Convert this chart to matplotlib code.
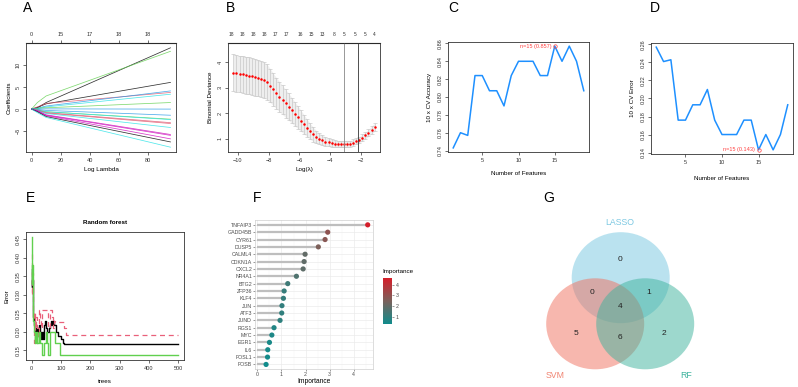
import numpy as np
import matplotlib
matplotlib.use("Agg")
import matplotlib.pyplot as plt
from matplotlib.patches import Ellipse
from matplotlib.colors import LinearSegmentedColormap
from matplotlib.cm import ScalarMappable
from matplotlib.colors import Normalize

plt.rcParams['font.family'] = ['Liberation Sans', 'DejaVu Sans']

# ---------------- data ----------------
# A: LASSO coefficient paths (values at lambda knots)
lasso_knots = [0, 4, 10, 95.3]
lasso_paths = [
    [0, 0.3, 1.5, 14.0], [0, 1.5, 3.0, 13.2], [0, 0.4, 1.2, 6.1], [0, 0.5, 1.3, 3.8],
    [0, 0.2, 0.7, 4.15], [0, 0.1, 0.5, 3.4], [0, 0.2, 0.3, 1.5], [0, 0.0, 0.05, 0.0],
    [0, -0.1, -0.3, -1.4], [0, -0.2, -0.6, -2.3], [0, -0.2, -0.6, -2.4], [0, -0.2, -0.8, -3.1],
    [0, -0.3, -0.9, -3.3], [0, -0.3, -1.0, -4.2], [0, -0.4, -1.3, -5.8], [0, -0.4, -1.4, -6.0],
    [0, -0.5, -1.5, -6.8], [0, -0.6, -1.7, -7.5], [0, -0.8, -1.9, -8.7],
]
lasso_colors = ['black', '#61D04F', 'black', '#DF536B', '#2297E6', '#28E2E5', '#61D04F', '#2297E6',
                '#2297E6', '#61D04F', '#28E2E5', '#DF536B', '#DF536B', '#28E2E5', '#CD0BBC', '#CD0BBC',
                '#CD0BBC', 'black', '#28E2E5']
lasso_top_pos = [0, 20, 40, 60, 80]
lasso_top_lab = ['0', '15', '17', '18', '18']

# B: CV binomial deviance
cv_loglam = [-10.3, -10.1, -9.9, -9.7, -9.5, -9.3, -9.1, -8.9, -8.7, -8.5, -8.3, -8.1, -7.9, -7.7,
             -7.5, -7.3, -7.1, -6.9, -6.7, -6.5, -6.3, -6.1, -5.9, -5.7, -5.5, -5.3, -5.1, -4.9,
             -4.7, -4.5, -4.3, -4.1, -3.9, -3.7, -3.5, -3.3, -3.1, -2.9, -2.7, -2.5, -2.3, -2.1,
             -1.9, -1.7, -1.5, -1.3, -1.1]
cv_mean = [3.59, 3.57, 3.54, 3.52, 3.49, 3.47, 3.44, 3.41, 3.38, 3.34, 3.30, 3.22, 3.08, 2.93,
           2.78, 2.65, 2.52, 2.38, 2.25, 2.11, 1.97, 1.84, 1.70, 1.56, 1.42, 1.29, 1.17, 1.07,
           1.00, 0.94, 0.89, 0.86, 0.83, 0.81, 0.80, 0.79, 0.78, 0.79, 0.81, 0.85, 0.90, 0.96,
           1.04, 1.13, 1.23, 1.34, 1.45]
cv_sd = [0.72, 0.72, 0.72, 0.72, 0.72, 0.72, 0.72, 0.72, 0.71, 0.70, 0.70, 0.69, 0.66, 0.63,
         0.61, 0.59, 0.57, 0.55, 0.53, 0.50, 0.47, 0.44, 0.41, 0.38, 0.34, 0.31, 0.28, 0.25,
         0.22, 0.20, 0.18, 0.16, 0.15, 0.14, 0.13, 0.13, 0.12, 0.12, 0.12, 0.12, 0.12, 0.12,
         0.13, 0.13, 0.14, 0.15, 0.16]
cv_top_pos = [-10.42, -9.71, -9.0, -8.29, -7.58, -6.87, -5.93, -5.22, -4.49, -3.73, -3.07, -2.38, -1.73, -1.13]
cv_top_lab = ['18', '18', '18', '18', '17', '17', '16', '15', '13', '8', '5', '5', '5', '4']
lambda_min = -3.07
lambda_1se = -2.2

# C / D: SVM-RFE
n_features = list(range(1, 20))
cv_accuracy = [0.743, 0.760, 0.757, 0.824, 0.824, 0.807, 0.807, 0.790, 0.824, 0.840,
               0.840, 0.840, 0.824, 0.824, 0.857, 0.840, 0.857, 0.840, 0.807]
cv_error = [0.257, 0.241, 0.243, 0.176, 0.176, 0.193, 0.193, 0.210, 0.176, 0.160,
            0.160, 0.160, 0.176, 0.176, 0.143, 0.160, 0.143, 0.160, 0.193]

# E: random forest error
black_trees = [1, 2, 3, 4, 5, 6, 8, 10, 12, 14, 17, 20, 23, 26, 29, 32, 35, 38, 41, 44, 47, 50, 54,
               58, 62, 66, 70, 74, 78, 82, 86, 90, 100, 106, 112, 500]
black_err = [0.37, 0.32, 0.34, 0.28, 0.26, 0.24, 0.22, 0.20, 0.21, 0.19, 0.21, 0.21, 0.19, 0.22, 0.20,
             0.18, 0.20, 0.18, 0.21, 0.22, 0.23, 0.21, 0.20, 0.21, 0.22, 0.23, 0.22, 0.23, 0.22, 0.20,
             0.20, 0.19, 0.18, 0.17, 0.167, 0.167]
red_trees = [1, 2, 3, 4, 5, 7, 9, 11, 13, 16, 19, 22, 25, 28, 31, 35, 40, 45, 50, 55, 60, 64, 68, 72,
             76, 80, 90, 100, 110, 118, 500]
red_err = [0.41, 0.30, 0.36, 0.26, 0.25, 0.22, 0.17, 0.25, 0.21, 0.24, 0.21, 0.19, 0.26, 0.23, 0.21,
           0.26, 0.26, 0.26, 0.26, 0.21, 0.21, 0.26, 0.24, 0.21, 0.23, 0.227, 0.227, 0.227, 0.21, 0.193, 0.193]
green_trees = [1, 2, 3, 4, 5, 6, 8, 10, 12, 14, 17, 20, 24, 28, 32, 36, 40, 44, 48, 52, 56, 60, 64, 68,
               72, 76, 80, 84, 90, 97, 500]
green_err = [0.457, 0.33, 0.38, 0.27, 0.26, 0.23, 0.20, 0.17, 0.20, 0.17, 0.20, 0.17, 0.20, 0.17, 0.17,
             0.137, 0.137, 0.17, 0.20, 0.17, 0.137, 0.137, 0.20, 0.20, 0.20, 0.20, 0.17, 0.17, 0.17,
             0.137, 0.137]

# F: importance
genes = ['TNFAIP3', 'GADD45B', 'CYR61', 'DUSP5', 'CALML4', 'CDKN1A', 'CXCL2', 'NR4A1', 'BTG2', 'ZFP36',
         'KLF4', 'JUN', 'ATF3', 'JUND', 'RGS1', 'MYC', 'EGR1', 'IL6', 'FOSL1', 'FOSB']
importance = [4.58, 2.92, 2.81, 2.53, 1.98, 1.94, 1.90, 1.62, 1.26, 1.11,
              1.08, 1.02, 1.01, 0.94, 0.69, 0.60, 0.50, 0.43, 0.42, 0.36]

# G: Venn counts
venn_sets = ['LASSO', 'SVM', 'RF']
venn_counts = {'L': 0, 'LS': 0, 'LR': 1, 'LSR': 4, 'S': 5, 'SR': 6, 'R': 2}

# ---------------- figure ----------------
W, H = 798, 387
fig = plt.figure(figsize=(W / 100, H / 100), dpi=100)


def add_ax(x0, y0, x1, y1):
    return fig.add_axes([x0 / W, 1 - y1 / H, (x1 - x0) / W, (y1 - y0) / H])


def rstyle(ax, fs=4):
    for s in ax.spines.values():
        s.set_linewidth(0.6)
        s.set_color('#333333')
    ax.tick_params(labelsize=fs, length=2.5, width=0.5, pad=1.5, colors='#333333')
    for lab in ax.get_yticklabels():
        lab.set_rotation(90)
        lab.set_va('center')


def letter(x, y, s):
    fig.text(x / W, 1 - y / H, s, fontsize=10, ha='left', va='center', color='black')


# A
ax = add_ax(26, 43, 176, 152)
for path, c in zip(lasso_paths, lasso_colors):
    ax.plot(lasso_knots, path, color=c, lw=0.55, alpha=0.8)
ax.set_xlim(-3.8, 99.1)
ax.set_ylim(-9.8, 15.1)
ax.set_xticks([0, 20, 40, 60, 80])
ax.set_yticks([-5, 0, 5, 10])
rstyle(ax)
top = ax.secondary_xaxis('top')
top.set_xticks(lasso_top_pos, labels=lasso_top_lab)
top.tick_params(labelsize=4, length=2.5, width=0.5, pad=1.5, colors='#333333')
ax.set_xlabel('Log Lambda', fontsize=4.5, labelpad=3)
ax.set_ylabel('Coefficients', fontsize=4.5, labelpad=3)
letter(23, 8, 'A')

# B
ax = add_ax(228, 43, 380, 152)
lo = np.array(cv_mean) - np.array(cv_sd)
hi = np.array(cv_mean) + np.array(cv_sd)
ax.fill_between(cv_loglam, lo, hi, color='#EEEEEE', lw=0)
ax.errorbar(cv_loglam, cv_mean, yerr=cv_sd, fmt='none', ecolor='#C4C4C4', elinewidth=0.45,
            capsize=1.2, capthick=0.45)
ax.plot(cv_loglam, cv_mean, 'o', color='red', ms=1.8, mew=0)
ax.axvline(lambda_min, color='#888888', lw=0.6)
ax.axvline(lambda_1se, color='#333333', lw=0.6)
ax.set_xlim(-10.65, -0.75)
ax.set_ylim(0.48, 4.75)
ax.set_xticks([-10, -8, -6, -4, -2])
ax.set_yticks([1, 2, 3, 4])
rstyle(ax)
top = ax.secondary_xaxis('top')
top.set_xticks(cv_top_pos, labels=cv_top_lab)
top.tick_params(labelsize=3.5, length=0, pad=4, colors='#333333')
ax.set_xlabel('Log(\u03bb)', fontsize=4.5, labelpad=3)
ax.set_ylabel('Binomial Deviance', fontsize=4.5, labelpad=3)
letter(226, 8, 'B')

# C
ax = add_ax(448, 42, 589, 152)
ax.plot(n_features, cv_accuracy, color='#1E90FF', lw=1.1)
best = 14
ax.plot(n_features[best], cv_accuracy[best], 'o', mfc='none', mec='#FF4040', ms=2.5, mew=0.5)
ax.annotate('n=15 (0.857)', (n_features[best], cv_accuracy[best]), xytext=(-2.5, 0),
            textcoords='offset points', ha='right', va='center', fontsize=4, color='#FF4040')
ax.set_xlim(0.28, 19.72)
ax.set_ylim(0.7384, 0.8616)
ax.set_xticks([5, 10, 15])
ax.set_yticks([0.74, 0.76, 0.78, 0.80, 0.82, 0.84, 0.86])
ax.set_yticklabels(['0.74', '0.76', '0.78', '0.80', '0.82', '0.84', '0.86'])
rstyle(ax)
ax.set_xlabel('Number of Features', fontsize=4.5, labelpad=6)
ax.set_ylabel('10 x CV Accuracy', fontsize=4.5, labelpad=4)
letter(448, 8, 'C')

# D
ax = add_ax(651, 43, 793, 154)
ax.plot(n_features, cv_error, color='#1E90FF', lw=1.1)
ax.plot(n_features[best], cv_error[best], 'o', mfc='none', mec='#FF4040', ms=2.5, mew=0.5)
ax.annotate('n=15 (0.143)', (n_features[best], cv_error[best]), xytext=(-2.5, 0),
            textcoords='offset points', ha='right', va='center', fontsize=4, color='#FF4040')
ax.set_xlim(0.28, 19.72)
ax.set_ylim(0.1384, 0.2616)
ax.set_xticks([5, 10, 15])
ax.set_yticks([0.14, 0.16, 0.18, 0.20, 0.22, 0.24, 0.26])
ax.set_yticklabels(['0.14', '0.16', '0.18', '0.20', '0.22', '0.24', '0.26'])
rstyle(ax)
ax.set_xlabel('Number of Features', fontsize=4.5, labelpad=8)
ax.set_ylabel('10 x CV Error', fontsize=4.5, labelpad=4)
letter(650, 8, 'D')

# E
ax = add_ax(26, 232, 184, 360)
ax.step(black_trees, black_err, where='post', color='black', lw=1.0)
ax.step(red_trees, red_err, where='post', color='#E9607A', lw=0.9, ls=(0, (4, 3)))
ax.step(green_trees, green_err, where='post', color='#61D04F', lw=1.0)
ax.set_xlim(-19, 520)
ax.set_ylim(0.1242, 0.4698)
ax.set_xticks([0, 100, 200, 300, 400, 500])
ax.set_yticks([0.15, 0.20, 0.25, 0.30, 0.35, 0.40, 0.45])
ax.set_yticklabels(['0.15', '0.20', '0.25', '0.30', '0.35', '0.40', '0.45'])
rstyle(ax)
ax.set_title('Random forest', fontsize=4.5, fontweight='bold', pad=6)
ax.set_xlabel('trees', fontsize=4.5, labelpad=6)
ax.set_ylabel('Error', fontsize=4.5, labelpad=4)
letter(26, 198, 'E')

# F
cmap = LinearSegmentedColormap.from_list('imp', ['#108C8C', '#7A625C', '#D41E2A'])
norm = Normalize(vmin=0.33, vmax=4.58)
ax = add_ax(255, 220, 373, 369)
ypos = np.arange(len(genes))[::-1]
ax.set_axisbelow(True)
ax.set_xticks([0, 1, 2, 3, 4])
ax.set_xticks([0.5, 1.5, 2.5, 3.5, 4.5], minor=True)
ax.grid(True, which='major', color='#EBEBEB', lw=0.5)
ax.grid(True, which='minor', axis='x', color='#F3F3F3', lw=0.3)
ax.hlines(ypos, 0, importance, color='#BEBEBE', lw=1.6, zorder=2)
ax.scatter(importance, ypos, c=importance, cmap=cmap, norm=norm, s=14, zorder=3, linewidths=0)
ax.set_yticks(ypos)
ax.set_yticklabels(genes)
ax.set_xlim(-0.1, 4.8)
ax.set_ylim(-0.62, len(genes) - 1 + 0.66)
for s in ax.spines.values():
    s.set_linewidth(0.5)
    s.set_color('#CFCFCF')
ax.tick_params(labelsize=3.8, length=1.2, width=0.4, pad=0.8, colors='#4D4D4D')
ax.tick_params(which='minor', length=0)
fig.text(314 / W, 1 - 381.5 / H, 'Importance', fontsize=4.8, ha='center', va='center')
letter(253, 198, 'F')

cax = add_ax(382.7, 278.3, 391.7, 324)
cb = fig.colorbar(ScalarMappable(norm=norm, cmap=cmap), cax=cax)
cb.outline.set_visible(False)
cb.set_ticks([1, 2, 3, 4])
cax.tick_params(labelsize=3.8, length=1.5, width=0.4, pad=1.5, colors='#4D4D4D')
fig.text(382 / W, 1 - 272 / H, 'Importance', fontsize=4.5, ha='left', va='center')

# G
ax = add_ax(530, 195, 720, 387)
ax.set_xlim(530, 720)
ax.set_ylim(387, 195)
ax.axis('off')
circles = [((620.7, 277.7), '#76C7E0'), ((595.2, 323.8), '#F0705E'), ((645.2, 323.8), '#3DB39D')]
for (cx, cy), col in circles:
    ax.add_patch(Ellipse((cx, cy), 98, 91, facecolor=col, alpha=0.5, lw=0))
set_label_pos = [(620, 222.7, '#7CC8E2'), (555, 375, '#F08472'), (685.7, 375, '#3DB39D')]
for name, (x, y, col) in zip(venn_sets, set_label_pos):
    ax.text(x, y, name, fontsize=6.3, color=col, ha='center', va='center')
count_pos = {'L': (620, 259.3), 'LS': (592.3, 292.7), 'LR': (648.3, 292.7), 'LSR': (620, 307),
             'S': (576, 333.3), 'SR': (620, 337.7), 'R': (664.3, 333.3)}
for k, v in venn_counts.items():
    x, y = count_pos[k]
    ax.text(x, y, str(v), fontsize=6, color='#222222', ha='center', va='center')
letter(543, 198, 'G')

fig.savefig('out.png', dpi=100)
